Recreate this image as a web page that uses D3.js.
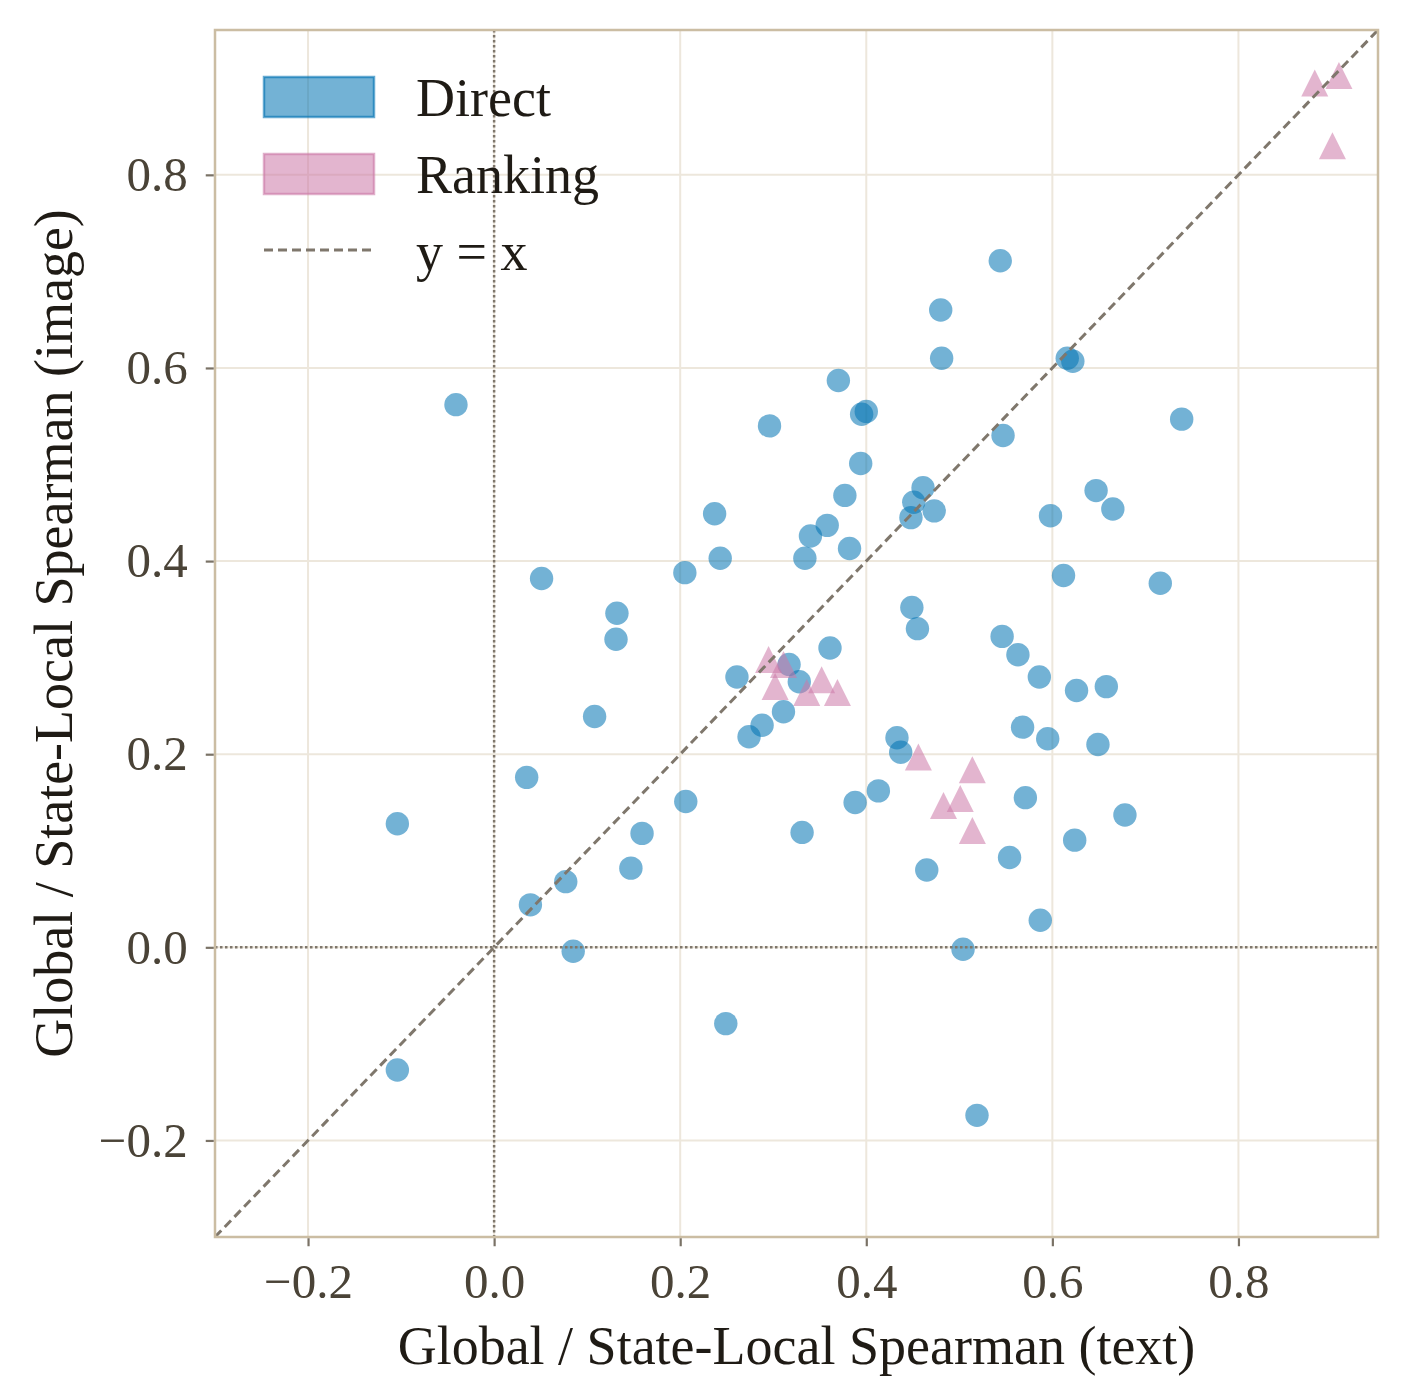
<!DOCTYPE html>
<html>
<head>
<meta charset="utf-8">
<script src="https://cdn.jsdelivr.net/npm/d3@7"></script>
<style>
  html, body { margin: 0; padding: 0; background: #ffffff; }
  svg { display: block; }
</style>
</head>
<body>
<script>
// ---- Data ----
const directX = [-0.041, -0.104, -0.104, 0.051, 0.035, 0.039, 0.077, 0.085, 0.108, 0.132,
  0.131, 0.159, 0.147, 0.205, 0.206, 0.237, 0.243, 0.249, 0.261, 0.274,
  0.288, 0.296, 0.311, 0.317, 0.328, 0.331, 0.334, 0.340, 0.358, 0.361,
  0.370, 0.377, 0.382, 0.388, 0.394, 0.395, 0.400, 0.413, 0.433, 0.437,
  0.449, 0.448, 0.451, 0.455, 0.461, 0.465, 0.473, 0.480, 0.481, 0.504,
  0.519, 0.544, 0.547, 0.546, 0.554, 0.563, 0.568, 0.571, 0.586, 0.587,
  0.595, 0.598, 0.612, 0.616, 0.622, 0.624, 0.626, 0.647, 0.649, 0.658,
  0.665, 0.678, 0.716, 0.739];
const directY = [0.562, 0.128, -0.127, 0.382, 0.176, 0.044, 0.068, -0.004, 0.239, 0.346,
  0.319, 0.118, 0.082, 0.388, 0.151, 0.449, 0.403, -0.079, 0.280, 0.218,
  0.230, 0.540, 0.244, 0.293, 0.275, 0.119, 0.403, 0.426, 0.437, 0.310,
  0.587, 0.468, 0.413, 0.150, 0.501, 0.552, 0.555, 0.162, 0.217, 0.202,
  0.352, 0.445, 0.461, 0.330, 0.476, 0.080, 0.452, 0.660, 0.610, -0.002,
  -0.174, 0.711, 0.530, 0.322, 0.093, 0.303, 0.228, 0.155, 0.280, 0.028,
  0.216, 0.447, 0.385, 0.610, 0.607, 0.111, 0.266, 0.473, 0.210, 0.270,
  0.454, 0.137, 0.377, 0.547];

const rankingX = [0.295, 0.311, 0.302, 0.336, 0.352, 0.369, 0.456, 0.514, 0.483, 0.501,
  0.514, 0.882, 0.908, 0.901];
const rankingY = [0.298, 0.293, 0.270, 0.264, 0.277, 0.264, 0.197, 0.184, 0.147, 0.154,
  0.121, 0.895, 0.903, 0.830];

const tickValues = [-0.2, 0.0, 0.2, 0.4, 0.6, 0.8];
const axisDomain = [-0.3, 0.95];
const legendLabels = ["Direct", "Ranking", "y = x"];
const xLabel = "Global / State-Local Spearman (text)";
const yLabel = "Global / State-Local Spearman (image)";

// ---- Layout / style ----
const W = 1408, H = 1378;
const plot = { left: 215, right: 1378, top: 30, bottom: 1237 };
const blue = "#0072B2", pink = "#CC79A7";
const frameColor = "#cbbda3", gridColor = "#ede7dc", tickColor = "#7a7266";
const tickLabelColor = "#4a4337", labelColor = "#1f1b15", refColor = "#7f776c";
const font = "'Liberation Serif', 'Times New Roman', 'DejaVu Serif', serif";

const svg = d3.select("body").append("svg")
  .attr("width", W).attr("height", H);

const x = d3.scaleLinear().domain(axisDomain).range([plot.left, plot.right]);
const y = d3.scaleLinear().domain(axisDomain).range([plot.bottom, plot.top]);

// clip
svg.append("defs").append("clipPath").attr("id", "clip")
  .append("rect").attr("x", plot.left).attr("y", plot.top)
  .attr("width", plot.right - plot.left).attr("height", plot.bottom - plot.top);

// grid
const grid = svg.append("g");
grid.selectAll("line.gx").data(tickValues).join("line")
  .attr("class", "gx")
  .attr("x1", d => x(d)).attr("x2", d => x(d))
  .attr("y1", plot.top).attr("y2", plot.bottom)
  .attr("stroke", gridColor).attr("stroke-width", 2);
grid.selectAll("line.gy").data(tickValues).join("line")
  .attr("class", "gy")
  .attr("y1", d => y(d)).attr("y2", d => y(d))
  .attr("x1", plot.left).attr("x2", plot.right)
  .attr("stroke", gridColor).attr("stroke-width", 2);

// points
const pts = svg.append("g").attr("clip-path", "url(#clip)");
const directData = directX.map((d, i) => ({ x: d, y: directY[i] }));
const rankingData = rankingX.map((d, i) => ({ x: d, y: rankingY[i] }));

pts.selectAll("circle").data(directData).join("circle")
  .attr("cx", d => x(d.x)).attr("cy", d => y(d.y)).attr("r", 11.7)
  .attr("fill", blue).attr("fill-opacity", 0.55);

const triSize = 27;
const triPath = `M0,${-triSize/2}L${triSize/2},${triSize/2}L${-triSize/2},${triSize/2}Z`;
pts.selectAll("path.tri").data(rankingData).join("path")
  .attr("class", "tri")
  .attr("d", triPath)
  .attr("transform", d => `translate(${x(d.x)},${y(d.y)})`)
  .attr("fill", pink).attr("fill-opacity", 0.55);

// reference lines
const refs = svg.append("g").attr("clip-path", "url(#clip)");
refs.append("line")
  .attr("x1", x(0)).attr("x2", x(0)).attr("y1", plot.top).attr("y2", plot.bottom)
  .attr("stroke", refColor).attr("stroke-width", 2.5).attr("stroke-dasharray", "2.5,2.5");
refs.append("line")
  .attr("y1", y(0)).attr("y2", y(0)).attr("x1", plot.left).attr("x2", plot.right)
  .attr("stroke", refColor).attr("stroke-width", 2.5).attr("stroke-dasharray", "2.5,2.5");
refs.append("line")
  .attr("x1", x(axisDomain[0])).attr("y1", y(axisDomain[0]))
  .attr("x2", x(axisDomain[1])).attr("y2", y(axisDomain[1]))
  .attr("stroke", refColor).attr("stroke-width", 3).attr("stroke-dasharray", "9,5");

// frame
svg.append("rect")
  .attr("x", plot.left).attr("y", plot.top)
  .attr("width", plot.right - plot.left).attr("height", plot.bottom - plot.top)
  .attr("fill", "none").attr("stroke", frameColor).attr("stroke-width", 2.5);

// axes
const fmt = d3.format(".1f");
const xAxis = svg.append("g").attr("transform", `translate(0,${plot.bottom + 1.25})`)
  .call(d3.axisBottom(x).tickValues(tickValues).tickFormat(fmt).tickSize(8).tickPadding(17));
const yAxis = svg.append("g").attr("transform", `translate(${plot.left - 1.25},0)`)
  .call(d3.axisLeft(y).tickValues(tickValues).tickFormat(fmt).tickSize(8).tickPadding(18));
[xAxis, yAxis].forEach(a => {
  a.select(".domain").remove();
  a.selectAll(".tick line").attr("stroke", tickColor).attr("stroke-width", 2.2);
  a.selectAll(".tick text").attr("fill", tickLabelColor)
    .style("font-family", font).style("font-size", "49px");
});
xAxis.selectAll(".tick text").attr("dy", "0.71em");

// axis labels
svg.append("text")
  .attr("x", (plot.left + plot.right) / 2).attr("y", 1364)
  .attr("text-anchor", "middle").attr("fill", labelColor)
  .style("font-family", font).style("font-size", "54px")
  .text(xLabel);
svg.append("text")
  .attr("transform", `translate(72,${(plot.top + plot.bottom) / 2}) rotate(-90)`)
  .attr("text-anchor", "middle").attr("fill", labelColor)
  .style("font-family", font).style("font-size", "54px")
  .text(yLabel);

// legend
const leg = svg.append("g");
const legendColors = [blue, pink];
legendColors.forEach((c, i) => {
  leg.append("rect")
    .attr("x", 264).attr("y", 77 + i * 77)
    .attr("width", 110).attr("height", 40)
    .attr("fill", c).attr("fill-opacity", 0.55)
    .attr("stroke", c).attr("stroke-opacity", 0.6).attr("stroke-width", 2.5);
});
leg.append("line")
  .attr("x1", 264).attr("x2", 374).attr("y1", 250).attr("y2", 250)
  .attr("stroke", refColor).attr("stroke-width", 3).attr("stroke-dasharray", "9,5");
legendLabels.forEach((t, i) => {
  leg.append("text")
    .attr("x", 416).attr("y", 116 + i * 77)
    .attr("fill", labelColor)
    .style("font-family", font).style("font-size", "54px")
    .text(t);
});
</script>
</body>
</html>
